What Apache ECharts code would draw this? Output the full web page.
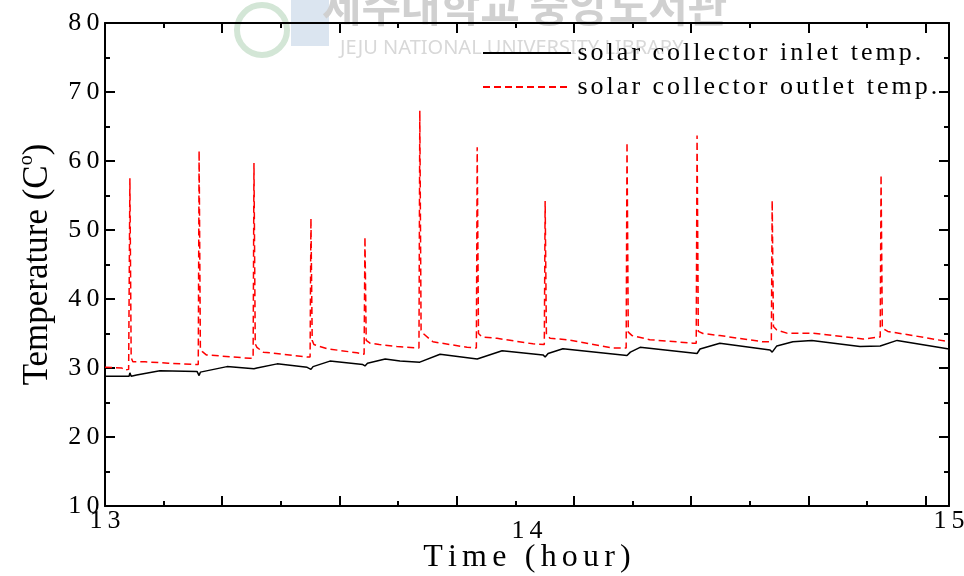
<!DOCTYPE html>
<html>
<head>
<meta charset="utf-8">
<title>Solar collector temperature</title>
<script src="https://cdn.jsdelivr.net/npm/echarts@6/dist/echarts.min.js"></script>
<style>
    html, body { margin: 0; padding: 0; background: #fff; }
    #main { width: 964px; height: 576px; }
</style>
</head>
<body>
<div id="main"></div>
<script>
    // time in hours, temperature in C
    var seriesNames = ['solar collector inlet temp.', 'solar collector outlet temp.'];
    var inletTemp = [
        [13.000, 28.8], [13.057, 28.8], [13.059, 29.3], [13.062, 28.8], [13.075, 29.0],
        [13.130, 29.6], [13.218, 29.5], [13.223, 28.9], [13.226, 29.4], [13.289, 30.2],
        [13.353, 29.9], [13.360, 30.0], [13.408, 30.6], [13.479, 30.1], [13.488, 29.8],
        [13.493, 30.2], [13.533, 31.0], [13.611, 30.5], [13.616, 30.3], [13.622, 30.7],
        [13.664, 31.3], [13.699, 31.0], [13.746, 30.85], [13.794, 32.0], [13.882, 31.3],
        [13.941, 32.5], [14.038, 31.9], [14.043, 31.6], [14.050, 32.1], [14.085, 32.8],
        [14.237, 31.8], [14.245, 32.3], [14.268, 33.0], [14.403, 32.1], [14.410, 32.75],
        [14.457, 33.6], [14.576, 32.6], [14.581, 32.3], [14.592, 33.2], [14.630, 33.8],
        [14.675, 34.0], [14.789, 33.1], [14.837, 33.2], [14.877, 34.0], [15.000, 32.75]
    ];
    var outletTemp = [
        [13.000, 30.1], [13.040, 30.0], [13.045, 29.7], [13.056, 29.8], [13.059, 57.5],
        [13.062, 31.5], [13.066, 30.9], [13.095, 30.9], [13.150, 30.7], [13.213, 30.5],
        [13.221, 30.5], [13.223, 61.5], [13.226, 33.0], [13.230, 32.4], [13.240, 31.9],
        [13.344, 31.4], [13.351, 31.4], [13.353, 59.7], [13.356, 33.5], [13.360, 33.0],
        [13.375, 32.3], [13.479, 31.6], [13.486, 31.6], [13.488, 51.7], [13.491, 34.0],
        [13.495, 33.4], [13.526, 32.8], [13.597, 32.2], [13.614, 32.0], [13.616, 49.0],
        [13.619, 34.0], [13.628, 33.6], [13.650, 33.4], [13.692, 33.1], [13.744, 32.9],
        [13.746, 67.3], [13.749, 35.5], [13.754, 35.0], [13.777, 33.8], [13.858, 33.0],
        [13.880, 32.9], [13.882, 62.0], [13.885, 35.0], [13.893, 34.5], [13.929, 34.3],
        [14.014, 33.5], [14.041, 33.4], [14.043, 54.2], [14.046, 34.8], [14.055, 34.3],
        [14.095, 34.1], [14.204, 32.9], [14.235, 32.9], [14.237, 62.7], [14.240, 35.2],
        [14.249, 34.7], [14.291, 34.1], [14.393, 33.6], [14.401, 33.6], [14.403, 63.7],
        [14.406, 35.3], [14.417, 35.0], [14.457, 34.7], [14.559, 33.8], [14.579, 33.8],
        [14.581, 54.3], [14.584, 36.0], [14.592, 35.5], [14.616, 35.05], [14.678, 35.05],
        [14.796, 34.2], [14.837, 34.5], [14.839, 58.0], [14.842, 35.8], [14.855, 35.3],
        [14.915, 34.7], [15.000, 33.8]
    ];
    var xLabels = [13, 14, 15];
    var yRange = [10, 80];

    var serif = '"Liberation Serif", "Times New Roman", serif';
    var gridBox = { left: 105, top: 23, width: 844, height: 483, outerBoundsMode: 'none' };
    var black = { color: '#000', width: 2 };

    // letters one by one, so they can be spaced apart like the stretched original
    function spaced(s, st) {
        return s.split('').map(function (c) { return '{' + st + '|' + c + '}'; }).join('');
    }

    // tick axes count seconds from 13:00 (major every 1000 s, minor every 500 s)
    function tickAxis(grid, pos, step, len, line) {
        return {
            gridIndex: grid, type: 'value', position: pos, min: 0, max: 7200, interval: step,
            axisLine: { show: line, lineStyle: black },
            axisTick: { show: true, inside: true, length: len, lineStyle: black },
            axisLabel: { show: false }, splitLine: { show: false }
        };
    }
    function valueAxis(pos, labels) {
        return {
            gridIndex: 0, type: 'value', position: pos, min: yRange[0], max: yRange[1], interval: 10,
            axisLine: { show: true, lineStyle: black },
            axisTick: { show: true, inside: true, length: 10, lineStyle: black },
            minorTick: { show: true, splitNumber: 2, length: 5, lineStyle: black },
            splitLine: { show: false },
            axisLabel: {
                show: labels, margin: 3,
                formatter: function (v) { return spaced(String(v), 'd'); },
                rich: { d: { fontFamily: serif, fontSize: 26, color: '#000', padding: [0, 2.6, 0, 2.6] } }
            }
        };
    }

    var myChart = echarts.init(document.getElementById('main'));
    var option = {
        animation: false,
        backgroundColor: '#fff',
        grid: [
            Object.assign({}, gridBox),
            Object.assign({}, gridBox),
            Object.assign({}, gridBox)
        ],
        graphic: [
            { type: 'circle', z: -1, silent: true, shape: { cx: 262, cy: 30, r: 25 },
              style: { fill: 'none', stroke: '#d3e6d6', lineWidth: 6 } },
            { type: 'rect', z: -1, silent: true, shape: { x: 291, y: 0, width: 38, height: 46 },
              style: { fill: '#dbe5f0' } },
            { type: 'text', z: -1, silent: true, x: 322, y: 6,
              style: { text: '제주대학교 중앙도서관', font: 'bold 43px "Noto Sans CJK KR"',
                       fill: '#d0d0d0', verticalAlign: 'middle' } },
            { type: 'text', z: -1, silent: true, x: 340, y: 48,
              style: { text: 'JEJU NATIONAL UNIVERSITY LIBRARY', font: '20px "Noto Sans"',
                       fill: '#d8d8d8', verticalAlign: 'middle' } }
        ],
        legend: {
            orient: 'vertical', left: 482, top: 40, padding: 0,
            itemWidth: 88, itemHeight: 14, itemGap: 8,
            data: seriesNames,
            itemStyle: { opacity: 0 },
            formatter: function (name) { return spaced(name, 'l'); },
            textStyle: {
                rich: { l: { fontFamily: serif, fontSize: 26, lineHeight: 26, color: '#000', padding: [0, 1.5, 0, 1.5] } }
            }
        },
        xAxis: [
            {
                gridIndex: 0, type: 'value', position: 'bottom', min: 13, max: 15, interval: 1,
                axisLine: { show: true, lineStyle: black },
                axisTick: { show: false }, splitLine: { show: false },
                axisLabel: {
                    margin: 2,
                    formatter: function (v) { return spaced(String(v), v === xLabels[1] ? 'dl' : 'd'); },
                    rich: {
                        d: { fontFamily: serif, fontSize: 26, color: '#000', padding: [0, 2.6, 0, 2.6] },
                        dl: { fontFamily: serif, fontSize: 26, color: '#000', padding: [10, 2.6, 0, 2.6] }
                    }
                },
                name: spaced('Time (hour)', 'n'),
                nameLocation: 'middle', nameGap: 36, nameMoveOverlap: false,
                nameTextStyle: {
                    rich: { n: { fontFamily: serif, fontSize: 32, color: '#000', padding: [0, 2.6, 0, 2.6] } }
                }
            },
            tickAxis(0, 'top', 500, 5, true),
            tickAxis(1, 'bottom', 1000, 10, false),
            tickAxis(1, 'top', 1000, 10, false),
            tickAxis(2, 'bottom', 500, 5, false)
        ],
        yAxis: [
            Object.assign(valueAxis('left', true), {
                name: '{t|Temperature (C}{sup|o}{t|)}',
                nameLocation: 'middle', nameGap: 46, nameMoveOverlap: false,
                nameTextStyle: {
                    rich: {
                        t: { fontFamily: serif, fontSize: 35, color: '#000' },
                        sup: { fontFamily: serif, fontSize: 20, color: '#000', padding: [0, 0, 22, 0] }
                    }
                }
            }),
            valueAxis('right', false),
            { gridIndex: 1, type: 'value', show: false, min: 0, max: 1 },
            { gridIndex: 2, type: 'value', show: false, min: 0, max: 1 }
        ],
        series: [
            {
                name: seriesNames[0], type: 'line', xAxisIndex: 0, yAxisIndex: 0,
                data: inletTemp, symbol: 'none', showSymbol: false,
                lineStyle: { color: '#000', width: 1.5 }, itemStyle: { color: '#000' }
            },
            {
                name: seriesNames[1], type: 'line', xAxisIndex: 0, yAxisIndex: 0,
                data: outletTemp, symbol: 'none', showSymbol: false,
                lineStyle: { color: '#ff0000', width: 1.5, type: [7, 4] }, itemStyle: { color: '#ff0000' }
            }
        ]
    };
    myChart.setOption(option);
</script>
</body>
</html>
